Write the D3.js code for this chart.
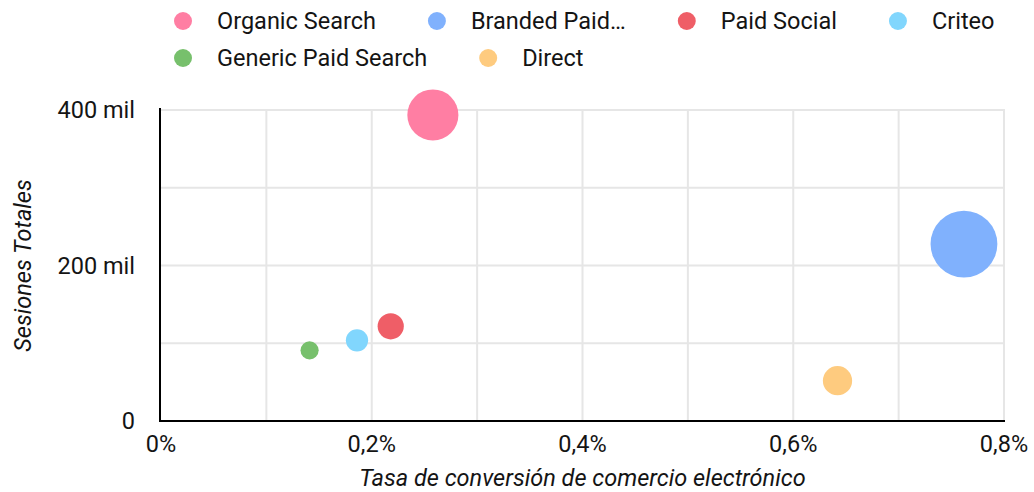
<!DOCTYPE html>
<html>
<head>
<meta charset="utf-8">
<script src="https://cdn.jsdelivr.net/npm/d3@7"></script>
<style>
  html, body { margin: 0; padding: 0; background: #fff; }
  svg { display: block; font-family: Roboto, "Noto Sans", sans-serif; }
</style>
</head>
<body>
<svg id="chart" width="1034" height="492"></svg>
<script>
// Channels, conversion rate (%), total sessions and transactions (bubble size)
const channels = ["Organic Search", "Branded Paid Search", "Paid Social", "Criteo", "Generic Paid Search", "Direct"];
const legendLabels = ["Organic Search", "Branded Paid…", "Paid Social", "Criteo", "Generic Paid Search", "Direct"];
const conversionRate = [0.258, 0.762, 0.218, 0.186, 0.141, 0.642];
const sessions = [393600, 227600, 121800, 103800, 90900, 51800];
const transactions = [1015, 1734, 266, 193, 128, 333];
const colors = ["#ff7ea3", "#80b1fd", "#ef5e67", "#81d6fd", "#77c06c", "#fecb7f"];

const xTicks = [0, 0.2, 0.4, 0.6, 0.8];
const xGrid = [0.1, 0.2, 0.3, 0.4, 0.5, 0.6, 0.7, 0.8];
const yTicks = [0, 200000, 400000];
const yGrid = [100000, 200000, 300000, 400000];

const svg = d3.select("#chart");
const plot = { left: 161, right: 1004, top: 110, bottom: 421 };
const fontSize = 23.5;
const textColor = "#141414";

const x = d3.scaleLinear().domain([0, 0.8]).range([plot.left, plot.right]);
const y = d3.scaleLinear().domain([0, 400000]).range([plot.bottom, plot.top]);
const r = d3.scaleSqrt().domain([0, d3.max(transactions)]).range([0, 33.4]);

const fmtX = v => (v === 0 ? "0" : d3.format(".1f")(v).replace(".", ",")) + "%";
const fmtY = v => v === 0 ? "0" : (v / 1000) + " mil";

// Gridlines
svg.append("g").selectAll("line").data(xGrid).join("line")
  .attr("x1", d => x(d)).attr("x2", d => x(d))
  .attr("y1", plot.top).attr("y2", plot.bottom)
  .attr("stroke", "#e6e6e6").attr("stroke-width", 2);
svg.append("g").selectAll("line").data(yGrid).join("line")
  .attr("x1", plot.left).attr("x2", plot.right + 1)
  .attr("y1", d => y(d)).attr("y2", d => y(d))
  .attr("stroke", "#e6e6e6").attr("stroke-width", 2);

// Axis lines
svg.append("line").attr("x1", plot.left - 1).attr("x2", plot.left - 1).attr("y1", plot.top - 2).attr("y2", plot.bottom + 1)
  .attr("stroke", "#000").attr("stroke-width", 2);
svg.append("line").attr("x1", plot.left - 2).attr("x2", plot.right + 1).attr("y1", plot.bottom).attr("y2", plot.bottom)
  .attr("stroke", "#000").attr("stroke-width", 2);

// Tick labels
svg.append("g").selectAll("text").data(xTicks).join("text")
  .attr("x", d => x(d)).attr("y", 452)
  .attr("text-anchor", "middle").attr("font-size", fontSize).attr("fill", textColor)
  .text(fmtX);
svg.append("g").selectAll("text").data(yTicks).join("text")
  .attr("x", 135).attr("y", d => y(d)).attr("dy", "0.35em")
  .attr("text-anchor", "end").attr("font-size", fontSize).attr("fill", textColor)
  .text(fmtY);

// Axis titles
svg.append("text").attr("x", (plot.left + plot.right) / 2).attr("y", 486)
  .attr("text-anchor", "middle").attr("font-size", fontSize).attr("font-style", "italic").attr("fill", textColor)
  .text("Tasa de conversión de comercio electrónico");
svg.append("text").attr("transform", `translate(31, ${(plot.top + plot.bottom) / 2}) rotate(-90)`)
  .attr("text-anchor", "middle").attr("font-size", fontSize).attr("font-style", "italic").attr("fill", textColor)
  .text("Sesiones Totales");

// Bubbles
const pts = channels.map((c, i) => ({ c, rate: conversionRate[i], s: sessions[i], t: transactions[i], color: colors[i] }));
svg.append("g").selectAll("circle").data(pts).join("circle")
  .attr("cx", d => x(d.rate)).attr("cy", d => y(d.s)).attr("r", d => r(d.t))
  .attr("fill", d => d.color);

// Legend: two rows, items flow left to right
const rows = [[0, 1, 2, 3], [4, 5]];
const rowY = [21, 58];
const legend = svg.append("g");
rows.forEach((idx, ri) => {
  let cx = 183;
  idx.forEach(i => {
    legend.append("circle").attr("cx", cx).attr("cy", rowY[ri]).attr("r", 9).attr("fill", colors[i]);
    const t = legend.append("text").attr("x", cx + 34).attr("y", rowY[ri]).attr("dy", "0.35em")
      .attr("font-size", fontSize).attr("fill", textColor).text(legendLabels[i]);
    cx += 34 + t.node().getComputedTextLength() + 61;
  });
});
</script>
</body>
</html>
